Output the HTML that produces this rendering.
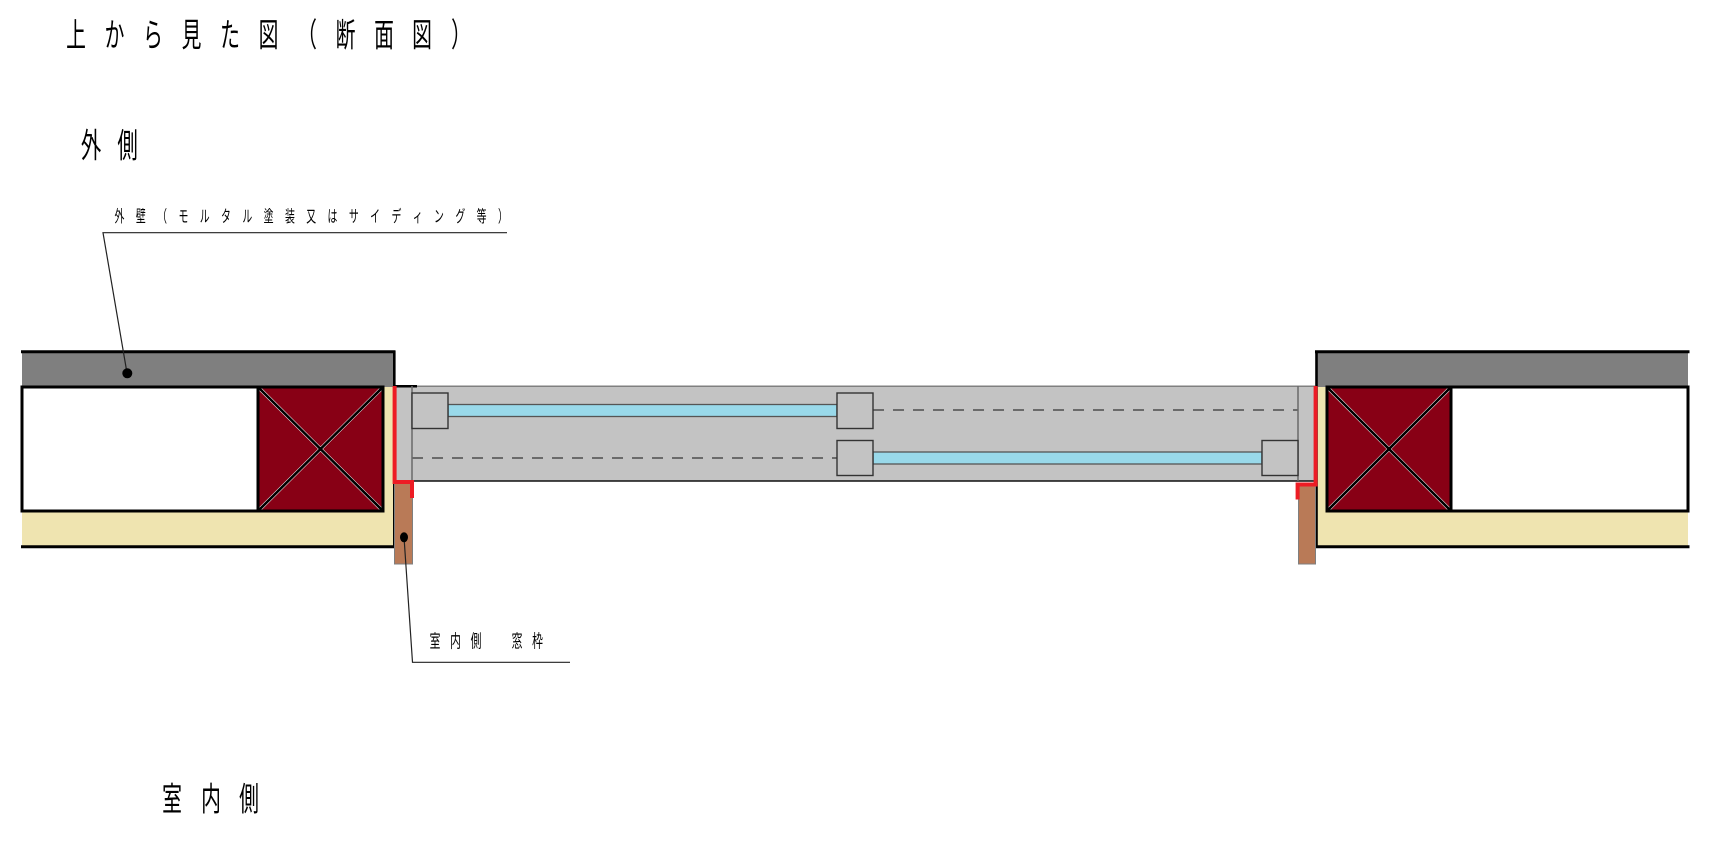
<!DOCTYPE html>
<html>
<head>
<meta charset="utf-8">
<style>
html,body{margin:0;padding:0;background:#fff;}
svg{display:block;}
text{font-family:"Liberation Sans","Noto Sans CJK JP",sans-serif;fill:#000;}
</style>
</head>
<body>
<svg width="1720" height="864" viewBox="0 0 1720 864" xmlns="http://www.w3.org/2000/svg">
<rect x="0" y="0" width="1720" height="864" fill="#fff"/>

<!-- Title: 上から見た図（断面図） -->
<g font-size="33" text-anchor="middle">
<text transform="translate(76,46.7) scale(0.6,1)">上</text>
<text transform="translate(114.5,46.7) scale(0.6,1)">か</text>
<text transform="translate(153,46.7) scale(0.6,1)">ら</text>
<text transform="translate(191.5,46.7) scale(0.6,1)">見</text>
<text transform="translate(230,46.7) scale(0.6,1)">た</text>
<text transform="translate(268.5,46.7) scale(0.6,1)">図</text>
<text transform="translate(307,46.7) scale(0.6,1)">（</text>
<text transform="translate(345.5,46.7) scale(0.6,1)">断</text>
<text transform="translate(384,46.7) scale(0.6,1)">面</text>
<text transform="translate(422,46.7) scale(0.6,1)">図</text>
<text transform="translate(461,46.7) scale(0.6,1)">）</text>
</g>

<!-- 外側 -->
<g font-size="34" text-anchor="middle">
<text transform="translate(91,157.7) scale(0.6,1)">外</text>
<text transform="translate(127.5,157.7) scale(0.6,1)">側</text>
</g>

<!-- 室内側 (bottom) -->
<g font-size="33" text-anchor="middle">
<text transform="translate(172,810.7) scale(0.6,1)">室</text>
<text transform="translate(211,810.7) scale(0.6,1)">内</text>
<text transform="translate(249,810.7) scale(0.6,1)">側</text>
</g>

<!-- 外壁 label -->
<g font-size="16.5" text-anchor="middle">
<text transform="translate(119.5,221.8) scale(0.6,1)">外</text>
<text transform="translate(140.8,221.8) scale(0.6,1)">壁</text>
<text transform="translate(162.1,221.8) scale(0.6,1)">（</text>
<text transform="translate(183.4,221.8) scale(0.6,1)">モ</text>
<text transform="translate(204.7,221.8) scale(0.6,1)">ル</text>
<text transform="translate(226,221.8) scale(0.6,1)">タ</text>
<text transform="translate(247.3,221.8) scale(0.6,1)">ル</text>
<text transform="translate(268.6,221.8) scale(0.6,1)">塗</text>
<text transform="translate(289.9,221.8) scale(0.6,1)">装</text>
<text transform="translate(311.2,221.8) scale(0.6,1)">又</text>
<text transform="translate(332.5,221.8) scale(0.6,1)">は</text>
<text transform="translate(353.8,221.8) scale(0.6,1)">サ</text>
<text transform="translate(375.1,221.8) scale(0.6,1)">イ</text>
<text transform="translate(396.4,221.8) scale(0.6,1)">デ</text>
<text transform="translate(417.7,221.8) scale(0.6,1)">ィ</text>
<text transform="translate(439,221.8) scale(0.6,1)">ン</text>
<text transform="translate(460.3,221.8) scale(0.6,1)">グ</text>
<text transform="translate(481.6,221.8) scale(0.6,1)">等</text>
<text transform="translate(502.9,221.8) scale(0.6,1)">）</text>
</g>

<!-- 室内側　窓枠 label -->
<g font-size="18" text-anchor="middle">
<text transform="translate(435,647.7) scale(0.6,1)">室</text>
<text transform="translate(455.5,647.7) scale(0.6,1)">内</text>
<text transform="translate(476,647.7) scale(0.6,1)">側</text>
<text transform="translate(517,647.7) scale(0.6,1)">窓</text>
<text transform="translate(537.5,647.7) scale(0.6,1)">枠</text>
</g>

<!-- ===== Left wall ===== -->
<rect x="22" y="352" width="372" height="35" fill="#7F7F7F"/>
<rect x="22" y="511" width="372" height="35.5" fill="#EFE4B0"/>
<rect x="382" y="387" width="12" height="124" fill="#EFE4B0"/>
<rect x="22" y="387" width="236" height="124" fill="#fff" stroke="#000" stroke-width="3"/>
<rect x="258" y="387" width="125" height="124" fill="#880015" stroke="#000" stroke-width="3"/>
<line x1="258" y1="387" x2="383" y2="511" stroke="#fff" stroke-width="3.6"/>
<line x1="383" y1="387" x2="258" y2="511" stroke="#fff" stroke-width="3.6"/>
<line x1="258" y1="387" x2="383" y2="511" stroke="#000" stroke-width="2.6"/>
<line x1="383" y1="387" x2="258" y2="511" stroke="#000" stroke-width="2.6"/>
<rect x="258" y="387" width="125" height="124" fill="none" stroke="#000" stroke-width="3"/>
<line x1="21" y1="351.8" x2="395.5" y2="351.8" stroke="#000" stroke-width="3"/>
<line x1="394.3" y1="351" x2="394.3" y2="387" stroke="#000" stroke-width="2.6"/>
<line x1="21" y1="546.8" x2="395.5" y2="546.8" stroke="#000" stroke-width="3"/>
<line x1="394.3" y1="480" x2="394.3" y2="548" stroke="#000" stroke-width="2.6"/>

<!-- ===== Right wall ===== -->
<rect x="1316" y="352" width="372" height="35" fill="#7F7F7F"/>
<rect x="1316" y="511" width="372" height="35.5" fill="#EFE4B0"/>
<rect x="1316" y="387" width="12" height="124" fill="#EFE4B0"/>
<rect x="1451" y="387" width="237" height="124" fill="#fff" stroke="#000" stroke-width="3"/>
<rect x="1327" y="387" width="124" height="124" fill="#880015" stroke="#000" stroke-width="3"/>
<line x1="1327" y1="387" x2="1451" y2="511" stroke="#fff" stroke-width="3.6"/>
<line x1="1451" y1="387" x2="1327" y2="511" stroke="#fff" stroke-width="3.6"/>
<line x1="1327" y1="387" x2="1451" y2="511" stroke="#000" stroke-width="2.6"/>
<line x1="1451" y1="387" x2="1327" y2="511" stroke="#000" stroke-width="2.6"/>
<rect x="1327" y="387" width="124" height="124" fill="none" stroke="#000" stroke-width="3"/>
<line x1="1315" y1="351.8" x2="1689.5" y2="351.8" stroke="#000" stroke-width="3"/>
<line x1="1316.5" y1="351" x2="1316.5" y2="548" stroke="#000" stroke-width="2.6"/>
<line x1="1315" y1="546.8" x2="1689.5" y2="546.8" stroke="#000" stroke-width="3"/>

<!-- ===== Window frame ===== -->
<rect x="394" y="386" width="921" height="95" fill="#C3C3C3"/>
<line x1="394" y1="386.3" x2="1315" y2="386.3" stroke="#7F7F7F" stroke-width="1.5"/>
<line x1="394" y1="481" x2="1315" y2="481" stroke="#111" stroke-width="1.5"/>
<line x1="393" y1="386.3" x2="417" y2="386.3" stroke="#000" stroke-width="2.5"/>
<line x1="412" y1="386" x2="412" y2="481" stroke="#6a6a6a" stroke-width="1.5"/>
<line x1="1298" y1="386" x2="1298" y2="481" stroke="#6a6a6a" stroke-width="1.5"/>

<!-- dashed lines -->
<line x1="412" y1="458" x2="837" y2="458" stroke="#6a6a6a" stroke-width="2" stroke-dasharray="11 9"/>
<line x1="873" y1="410" x2="1298" y2="410" stroke="#6a6a6a" stroke-width="2" stroke-dasharray="11 9"/>

<!-- glass -->
<rect x="448" y="404.5" width="389" height="12" fill="#99D9EA" stroke="#555" stroke-width="1.3"/>
<rect x="873" y="452" width="389" height="12" fill="#99D9EA" stroke="#555" stroke-width="1.3"/>

<!-- sash squares -->
<rect x="412" y="393" width="36" height="35.5" fill="#C3C3C3" stroke="#333" stroke-width="1.4"/>
<rect x="837" y="393" width="36" height="35.5" fill="#C3C3C3" stroke="#333" stroke-width="1.4"/>
<rect x="837" y="440.5" width="36" height="35" fill="#C3C3C3" stroke="#333" stroke-width="1.4"/>
<rect x="1262" y="440.5" width="36" height="35" fill="#C3C3C3" stroke="#333" stroke-width="1.4"/>

<!-- brown inner frames -->
<rect x="394.5" y="482" width="18" height="82" fill="#B97A57" stroke="#7F7F7F" stroke-width="1"/>
<rect x="1298.5" y="485" width="17" height="79" fill="#B97A57" stroke="#7F7F7F" stroke-width="1"/>

<!-- red lines -->
<polyline points="394.6,386 394.6,482 412,482 412,498" fill="none" stroke="#ED1C24" stroke-width="4" stroke-linejoin="miter"/>
<polyline points="1315.6,386 1315.6,484.5 1297.6,484.5 1297.6,499.5" fill="none" stroke="#ED1C24" stroke-width="4" stroke-linejoin="miter"/>

<!-- leader lines -->
<polyline points="507,232.7 103,232.7 127,373" fill="none" stroke="#222" stroke-width="1.2"/>
<circle cx="127.3" cy="373.3" r="5" fill="#000"/>
<polyline points="404,537 412.5,662.3 570,662.3" fill="none" stroke="#222" stroke-width="1.2"/>
<ellipse cx="404" cy="537.3" rx="4" ry="5" fill="#000"/>
</svg>
</body>
</html>
